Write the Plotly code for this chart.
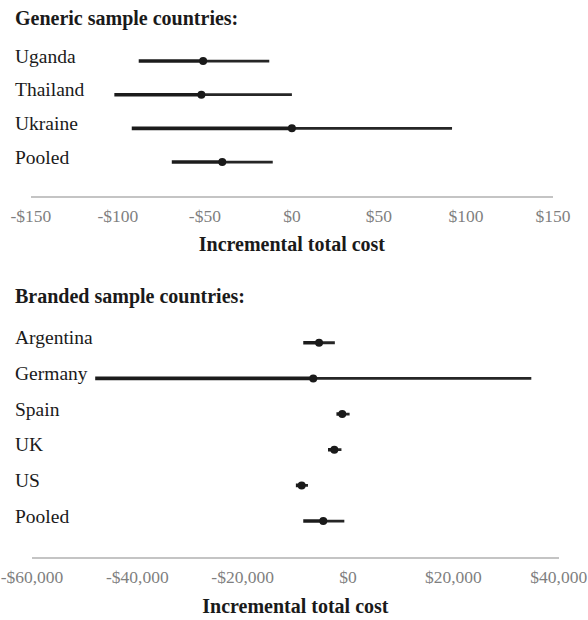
import plotly.graph_objects as go

# ---- data ----
generic_countries = ["Uganda", "Thailand", "Ukraine", "Pooled"]
generic_point = [-51, -52, 0, -40]
generic_low = [-88, -102, -92, -69]
generic_high = [-13, 0, 92, -11]

branded_countries = ["Argentina", "Germany", "Spain", "UK", "US", "Pooled"]
branded_point = [-5500, -6600, -1100, -2600, -8800, -4700]
branded_low = [-8500, -48000, -2200, -3800, -9900, -8500]
branded_high = [-2500, 34800, 300, -1250, -7600, -700]

generic_ticks = [-150, -100, -50, 0, 50, 100, 150]
branded_ticks = [-60000, -40000, -20000, 0, 20000, 40000]

SERIF = "Liberation Serif, Times New Roman, serif"
W, H = 588, 620


def money(v):
    s = f"${abs(v):,}"
    return "-" + s if v < 0 else s


def py(px):
    return 1 - px / H


def px_x(px):
    return px / W


fig = go.Figure()


def add_panel(names, point, low, high, xa, ya):
    rows = list(range(len(names)))
    lx, ly, rx, ry = [], [], [], []
    for r, p, lo, hi in zip(rows, point, low, high):
        lx += [lo, p, None]
        ly += [r, r, None]
        rx += [p, hi, None]
        ry += [r, r, None]
    fig.add_trace(go.Scatter(x=lx, y=ly, mode="lines", xaxis=xa, yaxis=ya,
                             line=dict(color="#1c1c1c", width=3.6),
                             hoverinfo="skip", showlegend=False))
    fig.add_trace(go.Scatter(x=rx, y=ry, mode="lines", xaxis=xa, yaxis=ya,
                             line=dict(color="#262626", width=2.8),
                             hoverinfo="skip", showlegend=False))
    fig.add_trace(go.Scatter(x=point, y=rows, mode="markers", xaxis=xa, yaxis=ya,
                             marker=dict(color="#1a1a1a", size=8),
                             text=names, showlegend=False))
    for r, n in zip(rows, names):
        fig.add_annotation(text=n, x=px_x(13), xref="paper", xanchor="left",
                           y=r, yref=ya, yanchor="middle", yshift=5,
                           showarrow=False,
                           font=dict(family=SERIF, size=19.5, color="#1a1a1a"))


add_panel(generic_countries, generic_point, generic_low, generic_high, "x", "y")
add_panel(branded_countries, branded_point, branded_low, branded_high, "x2", "y2")

axis_common = dict(showgrid=False, zeroline=False, showline=True,
                   linecolor="#c4c4c4", linewidth=2, ticks="", automargin=False,
                   ticklabelstandoff=3,
                   tickfont=dict(family=SERIF, size=17.5, color="#7f7f7f"))
title_font = dict(family=SERIF, size=20, color="#1a1a1a")

fig.update_layout(
    width=W, height=H,
    margin=dict(l=0, r=0, t=0, b=0, autoexpand=False),
    paper_bgcolor="white", plot_bgcolor="white",
    xaxis=dict(domain=[px_x(30.8), px_x(553)], range=[-150, 150], anchor="y",
               tickvals=generic_ticks, ticktext=[money(v) for v in generic_ticks],
               title=dict(text="<b>Incremental total cost</b>", font=title_font, standoff=12),
               **axis_common),
    yaxis=dict(domain=[py(195.7), py(44.2)], range=[4.0, -0.5], anchor="x",
               visible=False, automargin=False),
    xaxis2=dict(domain=[px_x(32), px_x(558.7)], range=[-60000, 40000], anchor="y2",
                tickvals=branded_ticks, ticktext=[money(v) for v in branded_ticks],
                title=dict(text="<b>Incremental total cost</b>", font=title_font, standoff=13),
                **axis_common),
    yaxis2=dict(domain=[py(556.7), py(324.9)], range=[6.0, -0.5], anchor="x2",
                visible=False, automargin=False),
)

fig.add_annotation(text="<b>Generic sample countries:</b>", x=px_x(13), xref="paper",
                   xanchor="left", y=py(19), yref="paper", yanchor="middle",
                   showarrow=False, font=title_font)
fig.add_annotation(text="<b>Branded sample countries:</b>", x=px_x(13), xref="paper",
                   xanchor="left", y=py(296), yref="paper", yanchor="middle",
                   showarrow=False, font=title_font)

fig.write_html("out.html")
